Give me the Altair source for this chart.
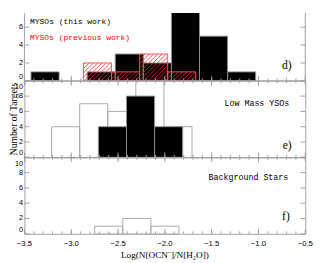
import altair as alt
import pandas as pd
import numpy as np

# ---------------- data ----------------
# Panel d) MYSOs (this work)  -- black histogram
d_black_x0 = [-3.43, -2.83, -2.53, -2.23, -1.93, -1.63, -1.33]
d_black_x1 = [-3.13, -2.53, -2.23, -1.93, -1.63, -1.33, -1.03]
d_black_n = [1, 1, 3, 2, 8, 5, 1]
# Panel d) MYSOs (previous work) -- red hatched histogram
d_red_x0 = [-2.87, -2.57, -2.27, -1.97]
d_red_x1 = [-2.57, -2.27, -1.97, -1.67]
d_red_n = [2, 1, 3, 1]
# Panel e) Low mass YSOs -- open histogram and black histogram
e_open_x0 = [-3.21, -2.91, -2.61, -2.31, -2.01]
e_open_x1 = [-2.91, -2.61, -2.31, -2.01, -1.71]
e_open_n = [4, 7, 6, 12, 4]
e_black_x0 = [-2.71, -2.41, -2.11]
e_black_x1 = [-2.41, -2.11, -1.81]
e_black_n = [4, 8, 4]
# Panel f) Background stars -- open histogram
f_open_x0 = [-2.75, -2.45, -2.15]
f_open_x1 = [-2.45, -2.15, -1.85]
f_open_n = [1, 2, 1]

x_major = [-3.5, -3.0, -2.5, -2.0, -1.5, -1.0, -0.5]
x_minor = [round(-3.5 + 0.1 * i, 2) for i in range(31)]
y_ticks_d = [0, 2, 4, 6]
y_ticks_ef = [0, 2, 4, 6, 8, 10]
x_title = "Log(N[OCN⁻]/N[H₂O])"
y_title = "Number of Targets"

# ---------------- layout / style ----------------
W = 290
HD, HE, HF = 70, 79, 79
FRAME = "#a0a0a0"
OPEN = "#a8a8a8"
RED = "#ff2020"
LABEL_FONT = "Liberation Sans"

xs = alt.Scale(domain=[-3.5, -0.5], nice=False, zero=False)
ppy_d = 9.22
ysd = alt.Scale(domain=[0, HD / ppy_d], nice=False, zero=True)
yse = alt.Scale(domain=[0, 10], nice=False, zero=True)
ysf = alt.Scale(domain=[0, 10], nice=False, zero=True)
ppx = W / 3.0


def bars_df(x0, x1, n):
    return pd.DataFrame({"x0": x0, "x1": x1, "n": n, "z": [0] * len(n)})


def hatch_df(x0s, x1s, ns, ppy, s=4.4):
    rows = []
    for a, b, n in zip(x0s, x1s, ns):
        X0 = (a + 3.5) * ppx
        X1 = (b + 3.5) * ppx
        H = n * ppy
        kmin = int(np.floor((X0 - H) / s))
        kmax = int(np.ceil(X1 / s))
        for k in range(kmin, kmax + 1):
            c = k * s
            ylo = max(0.0, X0 - c)
            yhi = min(H, X1 - c)
            if yhi - ylo > 0.3:
                rows.append(dict(x=-3.5 + (c + ylo) / ppx, y=ylo / ppy,
                                 x2=-3.5 + (c + yhi) / ppx, y2=yhi / ppy))
    return pd.DataFrame(rows)


def X(field):
    return alt.X(field, scale=xs, axis=None)


def Y(field, sc):
    return alt.Y(field, scale=sc, axis=None)


def tick_layers(h, yscale, yvals, top=True):
    L = []
    maj = pd.DataFrame({"x": x_major})
    mnr = pd.DataFrame({"x": x_minor})
    L.append(alt.Chart(maj).mark_rule(color=FRAME, strokeWidth=1).encode(
        x=X("x:Q"), y=alt.value(h), y2=alt.value(h - 5)))
    L.append(alt.Chart(mnr).mark_rule(color=FRAME, strokeWidth=1).encode(
        x=X("x:Q"), y=alt.value(h), y2=alt.value(h - 2.5)))
    if top:
        L.append(alt.Chart(maj).mark_rule(color=FRAME, strokeWidth=1).encode(
            x=X("x:Q"), y=alt.value(0), y2=alt.value(5)))
        L.append(alt.Chart(mnr).mark_rule(color=FRAME, strokeWidth=1).encode(
            x=X("x:Q"), y=alt.value(0), y2=alt.value(2.5)))
    yt = pd.DataFrame({"v": yvals})
    L.append(alt.Chart(yt).mark_rule(color=FRAME, strokeWidth=1).encode(
        y=Y("v:Q", yscale), x=alt.value(0), x2=alt.value(5)))
    L.append(alt.Chart(yt).mark_rule(color=FRAME, strokeWidth=1).encode(
        y=Y("v:Q", yscale), x=alt.value(W - 5), x2=alt.value(W)))
    # y tick labels (flush at the panel edges, like the original)
    lo = [v for v in yvals if v == 0]
    hi = [v for v in yvals if v == 10]
    mid = [v for v in yvals if 0 < v < 10]
    for vals, base, dy in ((lo, "alphabetic", -2), (mid, "middle", 0), (hi, "top", 2.5)):
        if vals:
            df = pd.DataFrame({"v": vals, "t": [str(v) for v in vals]})
            L.append(alt.Chart(df).mark_text(
                font=LABEL_FONT, fontSize=7.5, color="black", align="right",
                baseline=base, dy=dy
            ).encode(y=Y("v:Q", yscale), x=alt.value(-1.5), text="t:N"))
    return L


def text_layer(txt, x, y, size, font, color="black", align="left", angle=0, baseline="middle"):
    kw = dict(font=font, fontSize=size, color=color, align=align, baseline=baseline)
    if angle:
        kw["angle"] = angle
    return alt.Chart(pd.DataFrame({"t": [txt]})).mark_text(**kw).encode(
        x=alt.value(x), y=alt.value(y), text="t:N")


# ---------------- panel d ----------------
d_layers = []
d_layers.append(alt.Chart(bars_df(d_black_x0, d_black_x1, d_black_n)).mark_rect(
    fill="black", stroke="#909090", strokeWidth=1, clip=True).encode(
    x=X("x0:Q"), x2="x1", y=Y("n:Q", ysd), y2="z"))
d_layers.append(alt.Chart(hatch_df(d_red_x0, d_red_x1, d_red_n, ppy_d)).mark_rule(
    color=RED, strokeWidth=0.8, clip=True).encode(
    x=X("x:Q"), x2="x2", y=Y("y:Q", ysd), y2="y2"))
d_layers.append(alt.Chart(bars_df(d_red_x0, d_red_x1, d_red_n)).mark_rect(
    fill=None, fillOpacity=0, stroke="#ff5050", strokeWidth=1, clip=True).encode(
    x=X("x0:Q"), x2="x1", y=Y("n:Q", ysd), y2="z"))
d_layers += tick_layers(HD, ysd, y_ticks_d, top=False)
frame = pd.DataFrame({"a": [0]})
d_layers.append(alt.Chart(frame).mark_rule(color=FRAME).encode(
    x=alt.value(0), y=alt.value(0), y2=alt.value(HD)))
d_layers.append(alt.Chart(frame).mark_rule(color=FRAME).encode(
    x=alt.value(W), y=alt.value(0), y2=alt.value(HD)))
d_layers.append(alt.Chart(frame).mark_rule(color=FRAME).encode(
    x=alt.value(0), x2=alt.value(W), y=alt.value(HD)))
d_layers.append(text_layer("MYSOs (this work)", 5.8, 9.5, 8.2, "Liberation Mono"))
d_layers.append(text_layer("MYSOs (previous work)", 5.8, 25.5, 8.2, "Liberation Mono", color="#ff0000"))
d_layers.append(text_layer("d)", 276, 53.5, 12, "Liberation Serif", align="right"))
panel_d = alt.layer(*d_layers).properties(
    width=W, height=HD, view=alt.ViewBackground(stroke=None))

# ---------------- panel e ----------------
e_layers = []
e_layers.append(alt.Chart(bars_df(e_open_x0, e_open_x1, e_open_n)).mark_rect(
    fill=None, fillOpacity=0, stroke=OPEN, strokeWidth=1, clip=True).encode(
    x=X("x0:Q"), x2="x1", y=Y("n:Q", yse), y2="z"))
e_layers.append(alt.Chart(bars_df(e_black_x0, e_black_x1, e_black_n)).mark_rect(
    fill="black", stroke="#909090", strokeWidth=1, clip=True).encode(
    x=X("x0:Q"), x2="x1", y=Y("n:Q", yse), y2="z"))
e_layers += tick_layers(HE, yse, y_ticks_ef, top=True)
e_layers.append(text_layer("Low Mass YSOs", 273.5, 23.4, 8.6, "Liberation Mono", align="right"))
e_layers.append(text_layer("e)", 276, 66.7, 12, "Liberation Serif", align="right"))
e_layers.append(text_layer(y_title, -15.5, HE / 2, 10, "Liberation Serif",
                           align="center", angle=270, baseline="top"))
panel_e = alt.layer(*e_layers).properties(width=W, height=HE)

# ---------------- panel f ----------------
f_layers = []
f_layers.append(alt.Chart(bars_df(f_open_x0, f_open_x1, f_open_n)).mark_rect(
    fill=None, fillOpacity=0, stroke=OPEN, strokeWidth=1, clip=True).encode(
    x=X("x0:Q"), x2="x1", y=Y("n:Q", ysf), y2="z"))
f_layers += tick_layers(HF, ysf, y_ticks_ef, top=True)
xl = pd.DataFrame({"v": x_major, "t": [f"{v:.1f}".replace("-", "\u2212") for v in x_major]})
f_layers.append(alt.Chart(xl).mark_text(
    font=LABEL_FONT, fontSize=8, color="black", align="center", baseline="top"
).encode(x=X("v:Q"), y=alt.value(HF + 7), text="t:N"))
f_layers.append(text_layer(x_title, W / 2, HF + 17, 9.5, "Liberation Serif",
                           align="center", baseline="top"))
f_layers.append(text_layer("Background Stars", 272.5, 20, 8.6, "Liberation Mono", align="right"))
f_layers.append(text_layer("f)", 274, 60.4, 12, "Liberation Serif", align="right"))
panel_f = alt.layer(*f_layers).properties(width=W, height=HF)

chart = alt.vconcat(panel_d, panel_e, panel_f, spacing=0, bounds="flush").properties(
    padding=0
).configure_view(stroke=FRAME)

chart.save("out.html", embed_options={"renderer": "svg", "actions": False})
